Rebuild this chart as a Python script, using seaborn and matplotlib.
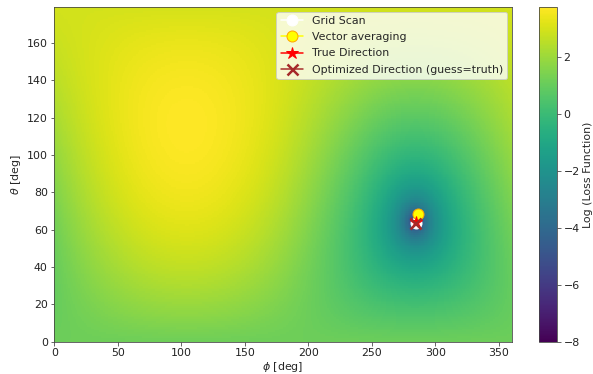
import numpy as np
import pandas as pd
import matplotlib
matplotlib.use("Agg")
import matplotlib.pyplot as plt
import seaborn as sns

# ---- data ----
true_dir = [284.3, 64.3]          # phi, theta [deg]
grid_scan = [284.5, 63.5]
vector_avg = [286.5, 68.5]
optimized = [284.0, 63.5]
log_loss_min = -8.0
log_loss_max = 3.75
# loss(angle) = low_coef*(1-cos)**low_power + high_coef*(1-cos)**high_power
low_coef = 3.7
low_power = 1.0
high_coef = 5.0
high_power = 2.8
phi_centers = np.arange(360) + 0.5
theta_centers = np.arange(179) + 0.5
xticks = [0, 50, 100, 150, 200, 250, 300, 350]
yticks = [0, 20, 40, 60, 80, 100, 120, 140, 160]
cbar_ticks = [-8, -6, -4, -2, 0, 2]

# ---- loss field on the scan grid (angular distance to the true direction) ----
P, T = np.meshgrid(np.radians(phi_centers), np.radians(theta_centers))
p0, t0 = np.radians(true_dir)
cosang = np.sin(T) * np.sin(t0) * np.cos(P - p0) + np.cos(T) * np.cos(t0)
xx = np.clip(1 - cosang, 0, None)
loss = low_coef * xx ** low_power + high_coef * xx ** high_power
field = np.clip(np.log(np.clip(loss, 1e-12, None)), log_loss_min, log_loss_max)
df = pd.DataFrame(field, index=theta_centers, columns=phi_centers)

sns.set_style("white")
plt.rcParams["font.family"] = ["DejaVu Sans"]
FS = 11
DPI = 72
W, H = 593, 374
fig = plt.figure(figsize=(W / DPI, H / DPI), dpi=DPI)
ax = fig.add_axes([54.3 / W, 32.3 / H, 457.4 / W, 334.4 / H])
cax = fig.add_axes([539 / W, 32.3 / H, 18 / W, 334.4 / H])

sns.heatmap(df, ax=ax, cbar_ax=cax, cmap="viridis", vmin=log_loss_min,
            vmax=log_loss_max, xticklabels=False, yticklabels=False,
            rasterized=True, cbar_kws={"ticks": cbar_ticks})
ax.invert_yaxis()
ax.set_xlim(0, 360)
ax.set_ylim(0, 179)
for s in ax.spines.values():
    s.set_visible(True)
    s.set_color("#444444")
    s.set_linewidth(0.8)
ax.set_xticks(xticks)
ax.set_xticklabels([str(v) for v in xticks])
ax.set_yticks(yticks)
ax.set_yticklabels([str(v) for v in yticks], rotation=0)
ax.tick_params(axis="both", which="both", direction="out", length=3.5,
               width=0.8, color="#444444", labelsize=FS, bottom=True, left=True,
               labelcolor="#222222", pad=3.0)
ax.set_xlabel(r"$\phi$ [deg]", fontsize=FS, labelpad=2)
ax.set_ylabel(r"$\theta$ [deg]", fontsize=FS, labelpad=4)

ax.plot([grid_scan[0]], [grid_scan[1]], "o-", color="white", markersize=11,
        label="Grid Scan")
ax.plot([vector_avg[0]], [vector_avg[1]], "o-", color="yellow",
        markeredgecolor="orange", markersize=11, label="Vector averaging")
ax.plot([true_dir[0]], [true_dir[1]], "*-", color="red", markersize=12,
        label="True Direction")
ax.plot([optimized[0]], [optimized[1]], "x-", color="brown", markersize=11,
        markeredgewidth=2.5, label="Optimized Direction (guess=truth)")
leg = ax.legend(loc="upper right", fontsize=FS, framealpha=0.8,
                borderaxespad=0.4, handletextpad=0.8, labelspacing=0.56,
                borderpad=0.4)

cb = ax.collections[0].colorbar
cb.outline.set_visible(True)
cb.outline.set_edgecolor("#444444")
cb.outline.set_linewidth(0.8)
cb.ax.tick_params(labelsize=FS, length=3.5, width=0.8, color="#444444",
                  labelcolor="#222222", pad=3.0)
cb.set_label("Log (Loss Function)", fontsize=FS, labelpad=3)

fig.savefig("out.png", dpi=DPI)
